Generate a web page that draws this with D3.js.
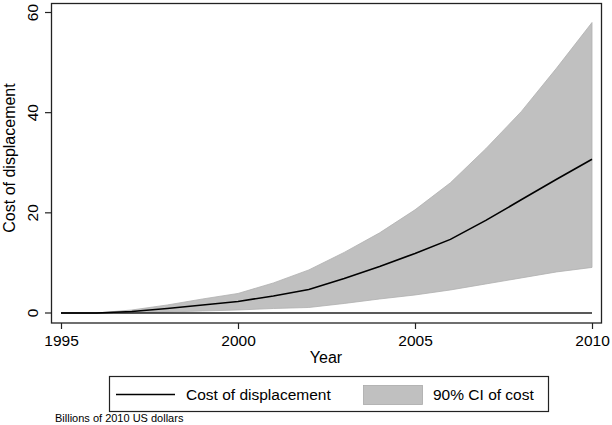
<!DOCTYPE html>
<html><head><meta charset="utf-8">
<script src="https://cdn.jsdelivr.net/npm/d3@7"></script>
<style>body{margin:0;background:#fff}svg{display:block;font-family:"Liberation Sans",Arial,sans-serif}</style>
</head><body><svg id="c" width="612" height="425"></svg>
<script>
const years = [1995,1996,1997,1998,1999,2000,2001,2002,2003,2004,2005,2006,2007,2008,2009,2010];
const cost  = [0,0,0.3,0.9,1.6,2.3,3.4,4.7,6.9,9.3,11.9,14.7,18.5,22.6,26.7,30.7];
const upper = [0,0,0.6,1.6,2.8,3.9,6.0,8.6,12.1,16.0,20.6,26.0,32.8,40.2,48.9,58.0];
const lower = [0,0,0.05,0.2,0.4,0.6,0.9,1.1,1.9,2.8,3.6,4.6,5.8,7.0,8.2,9.1];
const xTicks = [1995,2000,2005,2010];
const yTicks = [0,20,40,60];

const FF = "Liberation Sans, Arial, sans-serif";
const svg = d3.select("#c");
const x = d3.scaleLinear().domain([1995,2010]).range([61,592]);
const y = d3.scaleLinear().domain([0,60]).range([313,12.5]);

// frame
svg.append("rect").attr("x",51.5).attr("y",3.5).attr("width",550).attr("height",319.5)
  .attr("fill","none").attr("stroke","#222").attr("stroke-width",1.3);

// band
svg.append("path").datum(years)
  .attr("d", d3.area().x(d=>x(d)).y0((d,i)=>y(lower[i])).y1((d,i)=>y(upper[i])))
  .attr("fill","#c0c0c0").attr("stroke","#b0b0b0").attr("stroke-width",0.8);
// zero line
svg.append("line").attr("x1",x(1995)).attr("x2",x(2010)).attr("y1",y(0)).attr("y2",y(0))
  .attr("stroke","#222").attr("stroke-width",1.3);
// cost line
svg.append("path").datum(years)
  .attr("d", d3.line().x(d=>x(d)).y((d,i)=>y(cost[i])))
  .attr("fill","none").attr("stroke","#000").attr("stroke-width",1.6);

// x axis
const xa = svg.append("g").attr("transform","translate(0,323)")
  .call(d3.axisBottom(x).tickValues(xTicks).tickFormat(d3.format("d")).tickSize(6).tickPadding(6));
xa.select(".domain").remove();
xa.selectAll("line").attr("stroke","#222").attr("stroke-width",1.2);
xa.selectAll("text").attr("font-size",15.5).attr("fill","#000").attr("font-family",FF);

// y axis
const ya = svg.append("g").attr("transform","translate(51,0)")
  .call(d3.axisLeft(y).tickValues(yTicks).tickSize(6).tickPadding(4));
ya.select(".domain").remove();
ya.selectAll(".tick").attr("transform",null);
ya.selectAll(".tick line").attr("y1",d=>y(d)).attr("y2",d=>y(d)).attr("stroke","#222").attr("stroke-width",1.2);
ya.selectAll(".tick text").attr("font-size",15.5).attr("fill","#000").attr("font-family",FF)
  .attr("text-anchor","middle").attr("dy",0).attr("x",-13).attr("y",d=>y(d))
  .attr("transform",function(d){return `rotate(-90,-13,${y(d)})`;});

// axis titles
svg.append("text").attr("x",326).attr("y",363).attr("text-anchor","middle").attr("font-size",16).text("Year");
svg.append("text").attr("transform","translate(15,158) rotate(-90)").attr("text-anchor","middle").attr("font-size",16).text("Cost of displacement");

// legend
svg.append("rect").attr("x",109.5).attr("y",376.5).attr("width",439).attr("height",35)
  .attr("fill","#fff").attr("stroke","#222").attr("stroke-width",1.2);
svg.append("line").attr("x1",116).attr("x2",175).attr("y1",394.5).attr("y2",394.5).attr("stroke","#000").attr("stroke-width",1.6);
svg.append("text").attr("x",186).attr("y",400).attr("font-size",15.5).text("Cost of displacement");
svg.append("rect").attr("x",363.5).attr("y",385.5).attr("width",59).attr("height",19)
  .attr("fill","#c0c0c0").attr("stroke","#aaa").attr("stroke-width",0.8);
svg.append("text").attr("x",433).attr("y",400).attr("font-size",15.5).text("90% CI of cost");

// note
svg.append("text").attr("x",55).attr("y",422).attr("font-size",11).text("Billions of 2010 US dollars");
</script></body></html>
